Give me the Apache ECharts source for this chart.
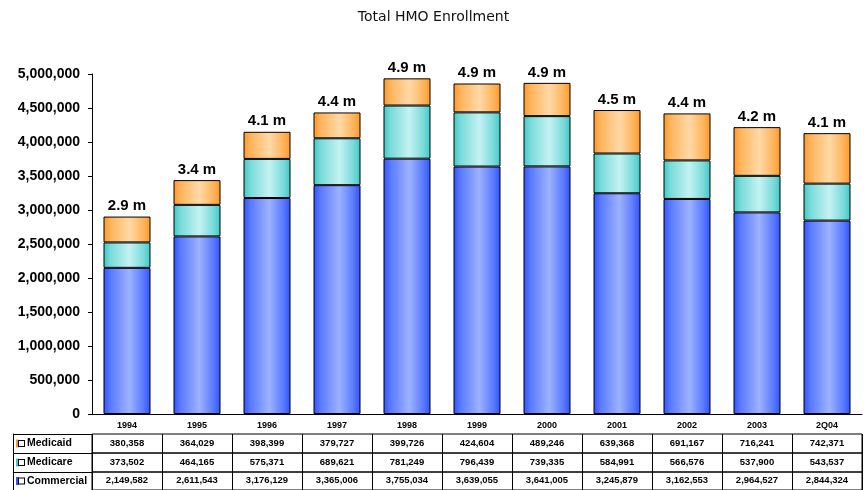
<!DOCTYPE html>
<html>
<head>
<meta charset="utf-8">
<script src="https://cdn.jsdelivr.net/npm/echarts@6/dist/echarts.min.js"></script>
<style>
  html, body { margin: 0; padding: 0; background: #fff; }
  #main { width: 867px; height: 490px; }
</style>
</head>
<body>
<div id="main"></div>
<script>
var years = ['1994', '1995', '1996', '1997', '1998', '1999', '2000', '2001', '2002', '2003', '2Q04'];
var medicaid = [380358, 364029, 398399, 379727, 399726, 424604, 489246, 639368, 691167, 716241, 742371];
var medicare = [373502, 464165, 575371, 689621, 781249, 796439, 739335, 584991, 566576, 537900, 543537];
var commercial = [2149582, 2611543, 3176129, 3365006, 3755034, 3639055, 3641005, 3245879, 3162553, 2964527, 2844324];

var FONT = 'Liberation Sans, Arial, sans-serif';

function grad(edge, mid, light) {
    return new echarts.graphic.LinearGradient(0, 0, 1, 0, [
        { offset: 0, color: edge },
        { offset: 0.15, color: mid },
        { offset: 0.55, color: light },
        { offset: 0.85, color: mid },
        { offset: 1, color: edge }
    ]);
}

function fmt(v) {
    return v.toLocaleString('en-US');
}

var rows = [
    { name: 'Medicaid', data: medicaid, color: '#ff9a20', top: 434 },
    { name: 'Medicare', data: medicare, color: '#40cccc', top: 453 },
    { name: 'Commercial', data: commercial, color: '#3355ff', top: 472 }
];

var grids = [{ left: 92, right: 5, top: 74, bottom: 76 }];
var xAxes = [{
    type: 'category',
    gridIndex: 0,
    data: years,
    axisLine: { lineStyle: { color: '#000' } },
    axisTick: { length: 20, lineStyle: { color: '#000' } },
    axisLabel: { margin: 7, fontFamily: FONT, fontWeight: 'bold', fontSize: 9, color: '#000' }
}];
var yAxes = [{
    type: 'value',
    gridIndex: 0,
    min: 0,
    max: 5000000,
    interval: 500000,
    axisLine: { show: true, lineStyle: { color: '#000' } },
    axisTick: { show: true, length: 4, lineStyle: { color: '#000' } },
    splitLine: { show: false },
    axisLabel: {
        margin: 12, fontFamily: FONT, fontWeight: 'bold', fontSize: 14, color: '#000',
        formatter: function (v) { return fmt(v); }
    }
}];

// data table rows under the chart
rows.forEach(function (r, i) {
    var gi = i + 1;
    grids.push({ left: 92, right: 5, top: r.top, height: 19, show: true, borderColor: '#000', borderWidth: 1 });
    xAxes.push({
        type: 'category',
        gridIndex: gi,
        data: r.data.map(fmt),
        axisLine: { show: false },
        axisTick: { show: false },
        splitLine: { show: true, lineStyle: { color: '#000' } },
        axisLabel: {
            margin: -10, verticalAlign: 'middle', fontFamily: FONT, fontWeight: 'bold',
            fontSize: 9.5, color: '#000', interval: 0
        }
    });
    yAxes.push({
        type: 'category',
        gridIndex: gi,
        data: [r.name],
        offset: 79,
        axisLine: { show: true, lineStyle: { color: '#000' } },
        axisTick: { show: true, inside: true, length: 79, lineStyle: { color: '#000' } },
        axisLabel: {
            align: 'left', margin: -3,
            formatter: '{c|}{b|}{t|' + r.name + '}',
            rich: {
                c: { width: 3, height: 8, backgroundColor: r.color },
                b: { width: 5, height: 5, borderColor: '#000', borderWidth: 1, backgroundColor: '#fff' },
                t: { fontFamily: FONT, fontWeight: 'bold', fontSize: 10.5, color: '#000', padding: [0, 0, 0, 3] }
            }
        }
    });
});

var option = {
    animation: false,
    backgroundColor: '#fff',
    title: {
        text: 'Total HMO Enrollment',
        left: 'center',
        top: 5,
        textStyle: { fontFamily: 'DejaVu Sans', fontWeight: 'normal', fontSize: 14, color: '#111' }
    },
    grid: grids,
    xAxis: xAxes,
    yAxis: yAxes,
    series: [{
        name: 'Commercial',
        type: 'bar',
        stack: 'hmo',
        barWidth: 47,
        data: commercial,
        itemStyle: { color: grad('#3052ff', '#5a7aff', '#9cb2ff'), borderColor: '#000', borderWidth: 1 }
    }, {
        name: 'Medicare',
        type: 'bar',
        stack: 'hmo',
        barWidth: 47,
        data: medicare,
        itemStyle: { color: grad('#3cc8c8', '#7adada', '#c4f2f2'), borderColor: '#000', borderWidth: 1 }
    }, {
        name: 'Medicaid',
        type: 'bar',
        stack: 'hmo',
        barWidth: 47,
        data: medicaid,
        itemStyle: { color: grad('#ff9626', '#ffb45c', '#ffd9a6'), borderColor: '#000', borderWidth: 1 },
        label: {
            show: true,
            position: 'top',
            distance: 3,
            fontFamily: FONT,
            fontWeight: 'bold',
            fontSize: 15,
            color: '#000',
            formatter: function (p) {
                var i = p.dataIndex;
                var total = commercial[i] + medicare[i] + medicaid[i];
                return (total / 1000000).toFixed(1) + ' m';
            }
        }
    }]
};

var chart = echarts.init(document.getElementById('main'));
chart.setOption(option);
</script>
</body>
</html>
